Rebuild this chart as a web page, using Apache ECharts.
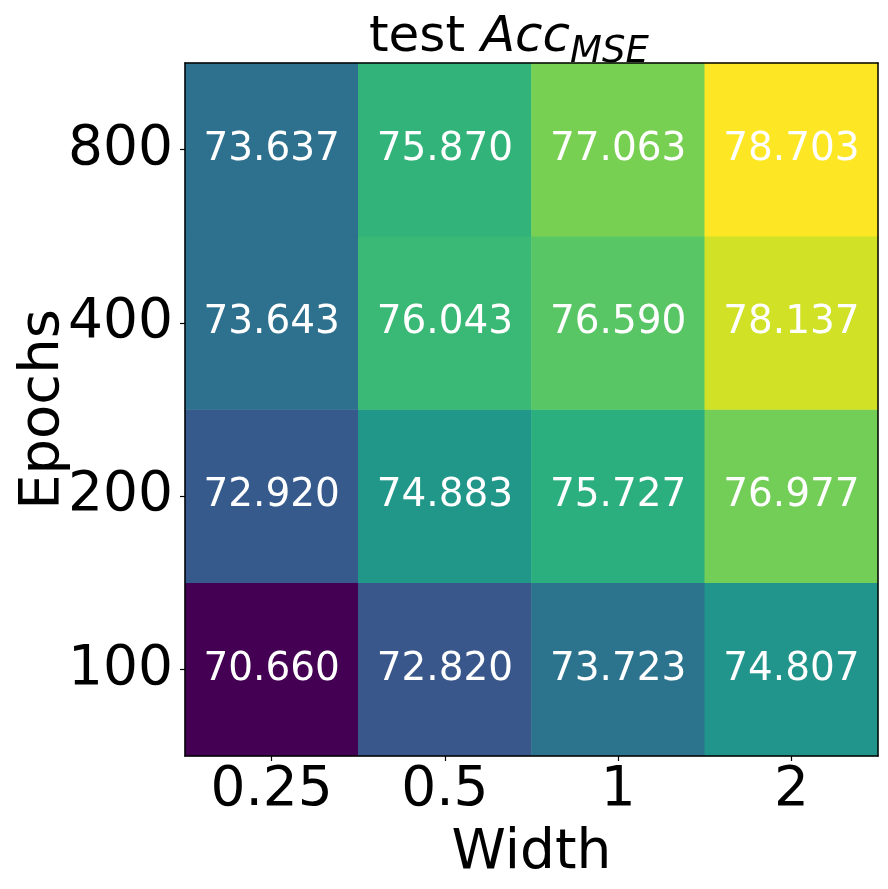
<!DOCTYPE html>
<html>
<head>
<meta charset="utf-8">
<script src="https://cdn.jsdelivr.net/npm/echarts@6/dist/echarts.min.js"></script>
<style>html,body{margin:0;padding:0;background:#fff}#c{width:888px;height:889px}</style>
</head>
<body>
<div id="c"></div>
<script>
const widths = ['0.25', '0.5', '1', '2'];
const epochs = ['100', '200', '400', '800'];
const acc100 = [70.660, 72.820, 73.723, 74.807];
const acc200 = [72.920, 74.883, 75.727, 76.977];
const acc400 = [73.643, 76.043, 76.590, 78.137];
const acc800 = [73.637, 75.870, 77.063, 78.703];
const rows = [acc100, acc200, acc400, acc800];
const viridis = ['#440154','#482475','#414487','#355f8d','#2a788e','#21918c','#22a884','#44bf70','#7ad151','#bddf26','#fde725'];

const data = [];
rows.forEach((r, yi) => r.forEach((v, xi) => data.push([xi, yi, v])));
const all = rows.flat();
const F = 'DejaVu Sans';

const chart = echarts.init(document.getElementById('c'));
chart.setOption({
  animation: false,
  backgroundColor: '#fff',
  title: {
    left: 364, top: 4, textAlign: 'left',
    text: '{n|test }{i|Acc}{s|MSE}',
    textStyle: {
      fontWeight: 'normal',
      rich: {
        n: {fontFamily: F, fontSize: 50, fontWeight: 'normal', color: '#000', lineHeight: 62, verticalAlign: 'bottom', padding: [0,0,8,0]},
        i: {fontFamily: F, fontSize: 50, fontWeight: 'normal', fontStyle: 'italic', color: '#000', lineHeight: 62, verticalAlign: 'bottom', padding: [0,0,8,0]},
        s: {fontFamily: F, fontSize: 37, fontWeight: 'normal', fontStyle: 'italic', color: '#000', lineHeight: 62, verticalAlign: 'bottom', padding: [0,0,0,0]}
      }
    }
  },
  grid: {left: 185, top: 63, width: 693, height: 693, containLabel: false, outerBoundsMode: 'none'},
  visualMap: {show: false, min: Math.min(...all), max: Math.max(...all), dimension: 2, inRange: {color: viridis}},
  xAxis: [{
    type: 'category', data: widths, position: 'bottom',
    name: 'Width', nameLocation: 'middle', nameGap: 70, nameMoveOverlap: false,
    nameTextStyle: {fontFamily: F, fontSize: 55, color: '#000'},
    axisLine: {show: true, lineStyle: {color: '#000', width: 1.5}},
    axisTick: {show: true, alignWithLabel: true, length: 5, lineStyle: {color: '#000', width: 1.2}},
    axisLabel: {fontFamily: F, fontSize: 55, color: '#000', margin: 7},
    splitLine: {show: false}, z: 10
  }, {
    type: 'category', data: widths, position: 'top',
    axisLine: {show: true, onZero: false, lineStyle: {color: '#000', width: 1.5}},
    axisTick: {show: false}, axisLabel: {show: false}, splitLine: {show: false}, z: 10
  }],
  yAxis: [{
    type: 'category', data: epochs, position: 'left',
    name: 'Epochs', nameLocation: 'middle', nameGap: 114, nameMoveOverlap: false,
    nameTextStyle: {fontFamily: F, fontSize: 56, color: '#000'},
    axisLine: {show: true, lineStyle: {color: '#000', width: 1.5}},
    axisTick: {show: true, alignWithLabel: true, length: 5, lineStyle: {color: '#000', width: 1.2}},
    axisLabel: {fontFamily: F, fontSize: 55, color: '#000', margin: 12, padding: [5, 0, 0, 0]},
    splitLine: {show: false}, z: 10
  }, {
    type: 'category', data: epochs, position: 'right',
    axisLine: {show: true, onZero: false, lineStyle: {color: '#000', width: 1.5}},
    axisTick: {show: false}, axisLabel: {show: false}, splitLine: {show: false}, z: 10
  }],
  series: [{
    type: 'heatmap', data: data, xAxisIndex: 0, yAxisIndex: 0,
    label: {show: true, color: '#fff', fontFamily: F, fontSize: 39, formatter: p => p.value[2].toFixed(3)},
    itemStyle: {borderWidth: 0},
    emphasis: {disabled: true}
  }]
});
</script>
</body>
</html>
